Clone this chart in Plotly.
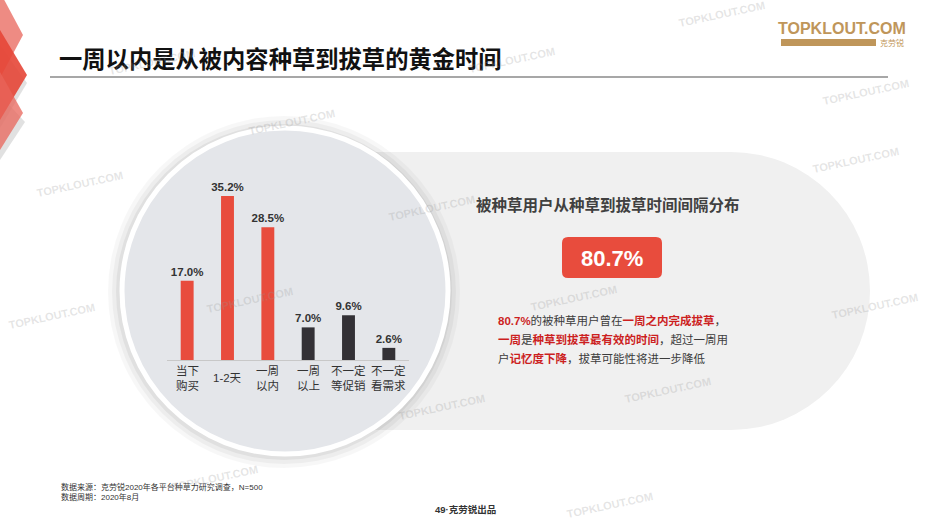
import plotly.graph_objects as go

W, H = 930, 519

# ---------------- data ----------------
categories = ["当下<br>购买", "1-2天", "一周<br>以内", "一周<br>以上", "不一定<br>等促销", "不一定<br>看需求"]
values = [17.0, 35.2, 28.5, 7.0, 9.6, 2.6]
within_week = [True, True, True, False, False, False]

title_text = "一周以内是从被内容种草到拔草的黄金时间"
panel_title = "被种草用户从种草到拔草时间间隔分布"
key_figure = "80.7%"
# (text, highlighted?) segments per line
para_lines = [
    [("80.7%", True), ("的被种草用户曾在", False), ("一周之内完成拔草", True), ("，", False)],
    [("一周", True), ("是", False), ("种草到拔草最有效的时间", True), ("，超过一周用", False)],
    [("户", False), ("记忆度下降", True), ("，拔草可能性将进一步降低", False)],
]
source_lines = ["数据来源：克劳锐2020年各平台种草力研究调查，N=500", "数据周期：2020年8月"]
page_text = "49·克劳锐出品"
logo_text = "TOPKLOUT.COM"
logo_sub = "克劳锐"
watermark = "TOPKLOUT.COM"

# ---------------- style ----------------
RED = "#e84c3d"
DARK = "#333136"
HL = "#cc1f1f"
TXT = "#3c3c3c"
FONT = "Liberation Sans, Noto Sans CJK SC, sans-serif"
CJK = "Noto Sans CJK SC, sans-serif"
TAN = "#bf965a"


def px(x):
    return x / W


def py(y):
    return 1 - y / H


def rrect_path(x0, y0, x1, y1, r):
    P = lambda x, y: f"{px(x):.5f},{py(y):.5f}"
    return (f"M{P(x0 + r, y0)} L{P(x1 - r, y0)} Q{P(x1, y0)} {P(x1, y0 + r)} "
            f"L{P(x1, y1 - r)} Q{P(x1, y1)} {P(x1 - r, y1)} L{P(x0 + r, y1)} "
            f"Q{P(x0, y1)} {P(x0, y1 - r)} L{P(x0, y0 + r)} Q{P(x0, y0)} {P(x0 + r, y0)} Z")


def poly_path(pts):
    return "M" + " L".join(f"{px(x):.5f},{py(y):.5f}" for x, y in pts) + " Z"


shapes = []
# gray pill panel
pill_top, pill_bot, pill_right = 152, 430, 870
rad = (pill_bot - pill_top) / 2
shapes.append(dict(type="rect", xref="paper", yref="paper", x0=px(285), x1=px(pill_right - rad),
                   y0=py(pill_bot), y1=py(pill_top), fillcolor="#f0f0f0", line_width=0, layer="below"))
shapes.append(dict(type="circle", xref="paper", yref="paper", x0=px(pill_right - 2 * rad), x1=px(pill_right),
                   y0=py(pill_bot), y1=py(pill_top), fillcolor="#f0f0f0", line_width=0, layer="below"))

# circle shadow + circle
cx, cy, cr = 285, 291, 163
for d, a in [(14, 0.03), (10, 0.04), (6, 0.05)]:
    shapes.append(dict(type="circle", xref="paper", yref="paper", x0=px(cx - cr - d), x1=px(cx + cr + d - 2),
                       y0=py(cy + cr + d), y1=py(cy - cr - d + 2), fillcolor=f"rgba(0,0,0,{a})",
                       line_width=0, layer="below"))
shapes.append(dict(type="circle", xref="paper", yref="paper", x0=px(cx - cr), x1=px(cx + cr),
                   y0=py(cy + cr), y1=py(cy - cr), fillcolor="#e4e6ea",
                   line=dict(color="white", width=5), layer="below"))

# left decoration chevrons
deco = [
    ([(0, 45), (27, 83), (0, 128)], "rgba(200,200,200,0.55)"),
    ([(0, 95), (25, 122), (0, 160)], "rgba(200,200,200,0.55)"),
    ([(0, -8), (23, 35), (0, 78)], "rgba(232,100,90,0.75)"),
    ([(0, 30), (27, 75), (0, 120)], "rgba(230,70,55,0.9)"),
    ([(0, 72), (23, 113), (0, 150)], "rgba(232,100,90,0.75)"),
]
for pts, col in deco:
    shapes.append(dict(type="path", xref="paper", yref="paper", path=poly_path(pts),
                       fillcolor=col, line_width=0, layer="below"))

# title underline
shapes.append(dict(type="line", xref="paper", yref="paper", x0=px(50), x1=px(888), y0=py(77), y1=py(77),
                   line=dict(color="#8a8a8a", width=1.5)))

# red figure box
shapes.append(dict(type="path", xref="paper", yref="paper", path=rrect_path(562, 237, 662, 278, 6),
                   fillcolor=RED, line_width=0))

# logo bar
shapes.append(dict(type="rect", xref="paper", yref="paper", x0=px(781), x1=px(876), y0=py(46), y1=py(39),
                   fillcolor=TAN, line_width=0))

# ---------------- figure ----------------
xs = list(range(len(values)))
bar_colors = [RED if w else DARK for w in within_week]

fig = go.Figure(go.Bar(
    x=xs, y=values, width=0.32, marker=dict(color=bar_colors, line_width=0),
    texttemplate="<b>%{y:.1f}%</b>", textposition="outside", constraintext="none",
    textfont=dict(family=FONT, size=11.5, color="#333333"), cliponaxis=False,
    hoverinfo="skip",
))

annotations = []
for i, c in enumerate(categories):
    annotations.append(dict(x=i, xref="x", y=py(378), yref="paper", yanchor="middle", xanchor="center",
                            text=c, showarrow=False, font=dict(family=FONT, size=11.5, color="#333333")))

annotations.append(dict(x=px(57), y=py(58), xref="paper", yref="paper", xanchor="left", yanchor="middle",
                        text=f"<b>{title_text}</b>", showarrow=False,
                        font=dict(family=CJK, size=23.3, color="#111111", weight=900)))
annotations.append(dict(x=px(608), y=py(204), xref="paper", yref="paper", xanchor="center", yanchor="middle",
                        text=f"<b>{panel_title}</b>", showarrow=False,
                        font=dict(family=CJK, size=15.5, color="#404040")))
annotations.append(dict(x=px(612), y=py(258), xref="paper", yref="paper", xanchor="center", yanchor="middle",
                        text=f"<b>{key_figure}</b>", showarrow=False,
                        font=dict(family=FONT, size=22, color="white")))

for k, segs in enumerate(para_lines):
    html = "".join(
        f'<b><span style="color:{HL}">{t}</span></b>' if h else f'<span style="color:{TXT}">{t}</span>'
        for t, h in segs)
    annotations.append(dict(x=px(496), y=py(320 + 19 * k), xref="paper", yref="paper", xanchor="left",
                            yanchor="middle", text=html, showarrow=False,
                            font=dict(family=FONT, size=11.5, color=TXT)))

for k, s in enumerate(source_lines):
    annotations.append(dict(x=px(59), y=py(487 + 10 * k), xref="paper", yref="paper", xanchor="left",
                            yanchor="middle", text=s, showarrow=False,
                            font=dict(family=FONT, size=8, color="#333333")))
annotations.append(dict(x=px(465), y=py(509), xref="paper", yref="paper", xanchor="center", yanchor="middle",
                        text=f"<b>{page_text}</b>", showarrow=False,
                        font=dict(family=FONT, size=9.5, color="#333333")))

annotations.append(dict(x=px(842), y=py(28), xref="paper", yref="paper", xanchor="center", yanchor="middle",
                        text=f"<b>{logo_text}</b>", showarrow=False,
                        font=dict(family=FONT, size=16, color=TAN)))
annotations.append(dict(x=px(892), y=py(43), xref="paper", yref="paper", xanchor="center", yanchor="middle",
                        text=logo_sub, showarrow=False, font=dict(family=CJK, size=8, color=TAN)))

wm_pos = [(722, 14), (152, 62), (512, 60), (866, 92), (292, 122), (80, 184), (432, 208), (856, 160),
          (574, 298), (875, 306), (52, 316), (250, 300), (668, 390), (442, 407), (215, 478), (610, 505)]
for x, y in wm_pos:
    annotations.append(dict(x=px(x), y=py(y), xref="paper", yref="paper", xanchor="center", yanchor="middle",
                            text=f"<b>{watermark}</b>", showarrow=False, textangle=-12,
                            font=dict(family=FONT, size=11, color="rgba(150,150,150,0.25)")))

fig.update_layout(
    width=W, height=H, margin=dict(l=0, r=0, t=0, b=0),
    paper_bgcolor="white", plot_bgcolor="rgba(0,0,0,0)",
    showlegend=False, shapes=shapes, annotations=annotations,
    xaxis=dict(domain=[px(167), px(409)], range=[-0.5, 5.5], showline=True, linecolor="#c8c8c8",
               linewidth=1, showgrid=False, zeroline=False, showticklabels=False, ticks="", fixedrange=True),
    yaxis=dict(domain=[py(360), py(170)], range=[0, (360 - 170) / 4.66], showline=False, showgrid=False,
               zeroline=False, showticklabels=False, ticks="", fixedrange=True),
    font=dict(family=FONT),
)

fig.write_html("out.html", config={"displayModeBar": False},
               post_script="document.body.style.margin='0px';document.body.style.overflow='hidden';")
